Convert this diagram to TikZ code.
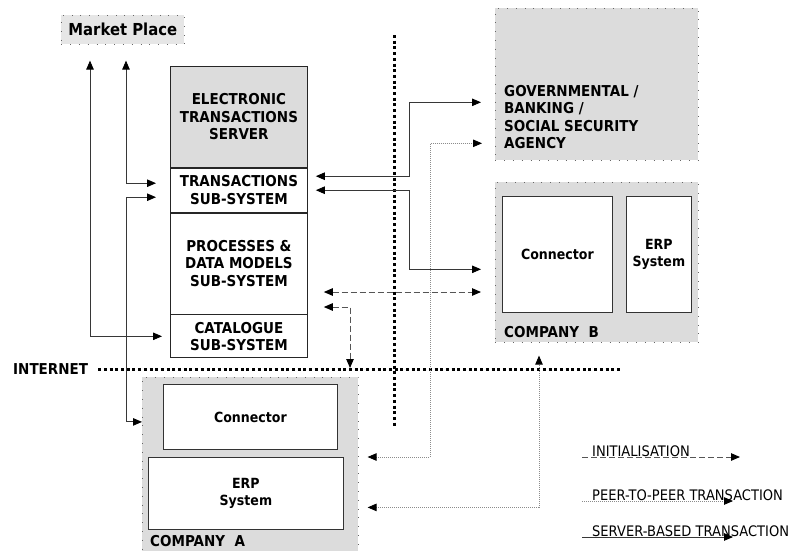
\documentclass[tikz,border=0pt]{standalone}
\usepackage{fontspec}
\newfontfamily\diafont[FakeStretch=0.9]{DejaVu Sans}
\usetikzlibrary{arrows.meta,calc,positioning}

\definecolor{boxgray}{RGB}{220,220,220}
\definecolor{mpgray}{RGB}{230,230,230}
\definecolor{srvline}{RGB}{55,55,55}
\definecolor{initline}{RGB}{85,85,85}
\definecolor{peerline}{RGB}{140,140,140}

\begin{document}
\begin{tikzpicture}[x=1pt,y=-1pt,
    font=\diafont\bfseries\fontsize{15}{17.5}\selectfont,
    >={Triangle[length=9pt,width=7.5pt,color=black]},
    area/.style={fill=boxgray, draw=black!60, line width=0.6pt,
        dash pattern=on 0.8pt off 8pt, inner sep=0pt, anchor=north west},
    part/.style={draw=black!85, fill=white, line width=0.8pt, inner sep=0pt,
        align=center, minimum width=137pt},
    inbox/.style={draw=black!80, fill=white, line width=0.8pt, inner sep=0pt,
        align=center, anchor=north west, font=\diafont\bfseries\fontsize{14}{16.5}\selectfont},
    srv/.style={draw=srvline, line width=0.9pt},
    init/.style={draw=initline, line width=1pt, dash pattern=on 6pt off 3pt},
    peer/.style={draw=peerline, line width=0.8pt, dash pattern=on 1pt off 1pt},
    netline/.style={draw=black, line width=3pt, dash pattern=on 3pt off 2.7pt},
    legtxt/.style={font=\diafont\fontsize{14.5}{16}\selectfont, inner sep=0pt, anchor=base west},
    lbl/.style={inner sep=0pt, anchor=west, align=left}
]
    \useasboundingbox (0,0) rectangle (791,550);

    %market place:
    \node[area, fill=mpgray, minimum width=123pt, minimum height=29pt,
        font=\diafont\bfseries\fontsize{16.5}{18}\selectfont] (market) at (61,15) {Market Place};

    %server column:
    \node[part, fill=boxgray, minimum height=101pt, anchor=north west] (ets) at (170,66)
        {ELECTRONIC\\TRANSACTIONS\\SERVER};
    \node[part, minimum height=44pt, below=0pt of ets] (trans) {TRANSACTIONS\\SUB-SYSTEM};
    \node[part, minimum height=101pt, below=0pt of trans] (proc) {PROCESSES \&\\DATA MODELS\\SUB-SYSTEM};
    \node[part, minimum height=43pt, below=0pt of proc] (cat) {CATALOGUE\\SUB-SYSTEM};

    %agency:
    \node[area, minimum width=203pt, minimum height=152pt] (gov) at (495,8) {};
    \node[lbl] (govtxt) at ($(gov.west)+(9,32.5)$)
        {GOVERNMENTAL /\\BANKING /\\SOCIAL SECURITY\\AGENCY};

    %company B:
    \node[area, minimum width=203pt, minimum height=160pt] (compB) at (495,182) {};
    \node[inbox, minimum width=110pt, minimum height=116pt] (conB) at (502,196) {Connector};
    \node[inbox, minimum width=65pt, minimum height=116pt] (erpB) at (626,196) {ERP\\System};
    \node[lbl] (compBtxt) at (504,332) {COMPANY~~B};

    %company A:
    \node[area, minimum width=216pt, minimum height=180pt] (compA) at (142,377) {};
    \node[inbox, minimum width=174pt, minimum height=65pt] (conA) at (163,384) {Connector};
    \node[inbox, minimum width=195pt, minimum height=72pt] (erpA) at (148,457) {ERP\\System};
    \node[lbl] (compAtxt) at (150,541) {COMPANY~~A};

    %internet border:
    \node[lbl] (inet) at (13,369) {INTERNET};
    \draw[netline] ($(inet.east)+(10,0)$) -- (622,369);
    \draw[netline] (394,35) -- (394,428);

    %server-based transactions:
    \draw[srv,<->] ($(market.south -| 90,0)+(0,16)$) |- ($(cat.west)+(-8,0)$);
    \draw[srv,<->] ($(market.south -| 126,0)+(0,16)$) |- ($(trans.west)+(-14,-7)$);
    \coordinate (conAin) at ($(conA.west -| compA.west)+(0,5)$);
    \draw[srv,<->] ($(trans.west)+(-14,7)$) -| ($(conAin)+(-16,0)$) -- (conAin);
    \draw[srv,<->] ($(trans.east)+(8,-14)$) -| ($(gov.west)+(-86,18)$) -- ($(gov.west)+(-14,18)$);
    \draw[srv,<->] ($(trans.east)+(8,0)$) -| ($(compB.west)+(-86,7)$) -- ($(compB.west)+(-14,7)$);

    %initialisation:
    \draw[init,<->] ($(proc.east)+(16,28.5)$) -- ($(compB.west |- proc.east)+(-14,28.5)$);
    \draw[init,<->] ($(proc.east)+(16,43.5)$) -| ($(compA.north west)+(208,-9)$);

    %peer-to-peer transactions:
    \draw[peer,<->] ($(compA.east |- erpA.north)+(9,0)$) -| ($(gov.west)+(-65,59)$) -- ($(gov.west)+(-13,59)$);
    \draw[peer,<->] ($(compA.east |- erpA.center)+(9,14)$) -| ($(compB.south west)+(44,13)$);

    %legend:
    \node[legtxt] (linit) at (592,456) {INITIALISATION};
    \node[legtxt] (lpeer) at (592,500) {PEER-TO-PEER TRANSACTION};
    \node[legtxt] (lsrv) at (592,536) {SERVER-BASED TRANSACTION};
    \draw[init,->] ($(linit.base west)+(-10,1)$) -- ++(158,0);
    \draw[peer,->] ($(lpeer.base west)+(-10,1)$) -- ++(151,0);
    \draw[srv,->] ($(lsrv.base west)+(-10,1)$) -- ++(151,0);

\end{tikzpicture}
\end{document}
